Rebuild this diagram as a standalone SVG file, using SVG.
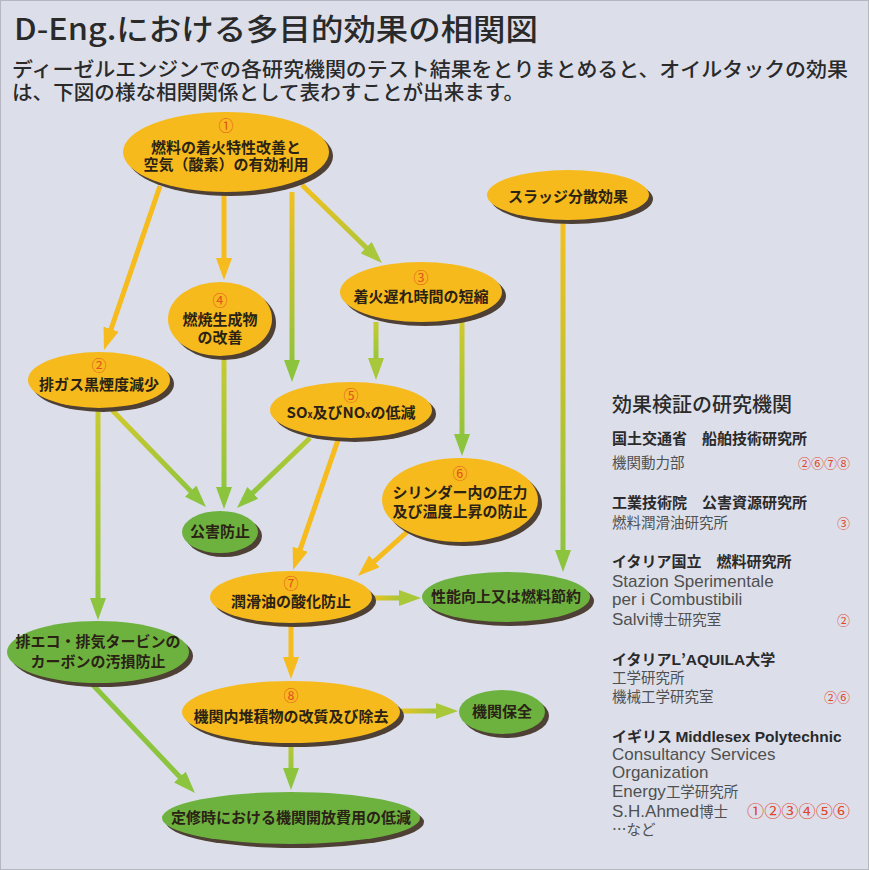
<svg xmlns="http://www.w3.org/2000/svg" width="869" height="870" viewBox="0 0 869 870">
<defs>
<style>
.bg{fill:#dcdfea}
.sh{fill:#4e4034}
.y{fill:#f6ba1c}
.g{fill:#6db23f}
.nt{font-family:"Noto Sans CJK JP",sans-serif;font-size:15px;font-weight:bold;fill:#2b2216;text-anchor:middle}
.num{font-family:"Noto Sans CJK JP",sans-serif;font-size:15px;fill:#e4521f;text-anchor:middle}
.ln{fill:none;stroke-width:5}
.ti{font-family:"Noto Sans CJK JP",sans-serif;fill:#2a2a2a}
.ph{font-family:"Noto Sans CJK JP",sans-serif;font-size:15px;font-weight:bold;fill:#2a2a2a}
.pr{font-family:"Noto Sans CJK JP",sans-serif;font-size:14.5px;fill:#505050}
.lat{font-family:"Liberation Sans",sans-serif;font-size:17px}
.latb{font-family:"Liberation Sans",sans-serif;font-size:15.5px;font-weight:bold}
.rn{font-family:"Noto Sans CJK JP",sans-serif;font-size:13px;fill:#e0452a;text-anchor:end}
</style>
<marker id="aY" markerUnits="userSpaceOnUse" markerWidth="22" markerHeight="16" viewBox="0 0 22 16" refX="12" refY="8" orient="auto"><path d="M0,0 L22,8 L0,16 Z" fill="#f6bb1c"/></marker>
<marker id="aG" markerUnits="userSpaceOnUse" markerWidth="22" markerHeight="16" viewBox="0 0 22 16" refX="12" refY="8" orient="auto"><path d="M0,0 L22,8 L0,16 Z" fill="#8cc43e"/></marker>
<marker id="aYG" markerUnits="userSpaceOnUse" markerWidth="22" markerHeight="16" viewBox="0 0 22 16" refX="12" refY="8" orient="auto"><path d="M0,0 L22,8 L0,16 Z" fill="#a9c73a"/></marker>
<linearGradient id="g3" gradientUnits="userSpaceOnUse" x1="292" y1="192" x2="292" y2="372"><stop offset="0" stop-color="#f0c020"/><stop offset="1" stop-color="#8cc43e"/></linearGradient>
<linearGradient id="g4" gradientUnits="userSpaceOnUse" x1="302" y1="185" x2="375" y2="256"><stop offset="0" stop-color="#f3c01e"/><stop offset="1" stop-color="#a9c73a"/></linearGradient>
<linearGradient id="g5" gradientUnits="userSpaceOnUse" x1="376" y1="322" x2="376" y2="370"><stop offset="0" stop-color="#c4cb30"/><stop offset="1" stop-color="#8cc43e"/></linearGradient>
<linearGradient id="g6" gradientUnits="userSpaceOnUse" x1="462" y1="322" x2="462" y2="446"><stop offset="0" stop-color="#d0c92c"/><stop offset="1" stop-color="#8cc43e"/></linearGradient>
<linearGradient id="g7" gradientUnits="userSpaceOnUse" x1="563" y1="221" x2="563" y2="562"><stop offset="0" stop-color="#f3c01e"/><stop offset="1" stop-color="#8cc43e"/></linearGradient>
<linearGradient id="g8" gradientUnits="userSpaceOnUse" x1="224" y1="357" x2="224" y2="499"><stop offset="0" stop-color="#c8ca30"/><stop offset="1" stop-color="#8cc43e"/></linearGradient>
<linearGradient id="g9" gradientUnits="userSpaceOnUse" x1="112" y1="410" x2="199" y2="500"><stop offset="0" stop-color="#d2c92c"/><stop offset="1" stop-color="#8cc43e"/></linearGradient>
<linearGradient id="g10" gradientUnits="userSpaceOnUse" x1="310" y1="438" x2="244" y2="501"><stop offset="0" stop-color="#b6c934"/><stop offset="1" stop-color="#8cc43e"/></linearGradient>
<linearGradient id="g13" gradientUnits="userSpaceOnUse" x1="98" y1="409" x2="98" y2="610"><stop offset="0" stop-color="#c8ca30"/><stop offset="1" stop-color="#8cc43e"/></linearGradient>
<linearGradient id="g14" gradientUnits="userSpaceOnUse" x1="374" y1="598" x2="411" y2="598"><stop offset="0" stop-color="#e8c424"/><stop offset="1" stop-color="#8cc43e"/></linearGradient>
<linearGradient id="g16" gradientUnits="userSpaceOnUse" x1="401" y1="711" x2="448" y2="711"><stop offset="0" stop-color="#e8c424"/><stop offset="1" stop-color="#8cc43e"/></linearGradient>
<linearGradient id="g17" gradientUnits="userSpaceOnUse" x1="291" y1="745" x2="291" y2="780"><stop offset="0" stop-color="#b8c934"/><stop offset="1" stop-color="#8cc43e"/></linearGradient>
</defs>
<rect class="bg" x="0" y="0" width="869" height="870"/>
<rect x="0.5" y="0.5" width="868" height="869" fill="none" stroke="#b4b6c0" stroke-width="1"/>

<g id="title">
<text class="ti" x="14" y="40" font-size="30" font-weight="500" textLength="524" lengthAdjust="spacingAndGlyphs">D-Eng.における多目的効果の相関図</text>
<text class="ti" x="12" y="77" font-size="20" font-weight="500" textLength="836" lengthAdjust="spacingAndGlyphs">ディーゼルエンジンでの各研究機関のテスト結果をとりまとめると、オイルタックの効果</text>
<text class="ti" x="12" y="100" font-size="20" font-weight="500" textLength="512" lengthAdjust="spacingAndGlyphs">は、下図の様な相関関係として表わすことが出来ます。</text>
</g>

<g id="connectors">
<line class="ln" x1="160" y1="186" x2="107.2" y2="340.5" stroke="#f6bb1c" marker-end="url(#aY)"/>
<line class="ln" x1="224" y1="195" x2="224" y2="270" stroke="#f6bb1c" marker-end="url(#aY)"/>
<line class="ln" x1="292" y1="192" x2="292" y2="372" stroke="url(#g3)" marker-end="url(#aG)"/>
<line class="ln" x1="302" y1="185" x2="374.8" y2="256" stroke="url(#g4)" marker-end="url(#aYG)"/>
<line class="ln" x1="376" y1="322" x2="376" y2="370" stroke="url(#g5)" marker-end="url(#aYG)"/>
<line class="ln" x1="462" y1="322" x2="462" y2="446" stroke="url(#g6)" marker-end="url(#aG)"/>
<line class="ln" x1="563" y1="221" x2="563" y2="562" stroke="url(#g7)" marker-end="url(#aG)"/>
<line class="ln" x1="224" y1="357" x2="224" y2="499" stroke="url(#g8)" marker-end="url(#aG)"/>
<line class="ln" x1="112" y1="410" x2="199" y2="499.8" stroke="url(#g9)" marker-end="url(#aG)"/>
<line class="ln" x1="310" y1="438" x2="244.2" y2="501.1" stroke="url(#g10)" marker-end="url(#aG)"/>
<line class="ln" x1="338" y1="440" x2="296.3" y2="560.6" stroke="#f6bb1c" marker-end="url(#aY)"/>
<line class="ln" x1="407" y1="532" x2="365.4" y2="569.3" stroke="#f6bb1c" marker-end="url(#aY)"/>
<line class="ln" x1="98" y1="409" x2="98" y2="610" stroke="url(#g13)" marker-end="url(#aG)"/>
<line class="ln" x1="374" y1="598" x2="411" y2="598" stroke="url(#g14)" marker-end="url(#aYG)"/>
<line class="ln" x1="291" y1="624" x2="291" y2="669" stroke="#f6bb1c" marker-end="url(#aY)"/>
<line class="ln" x1="401" y1="711" x2="448" y2="711" stroke="url(#g16)" marker-end="url(#aYG)"/>
<line class="ln" x1="291" y1="745" x2="291" y2="780" stroke="url(#g17)" marker-end="url(#aG)"/>
<line class="ln" x1="92" y1="684" x2="188.1" y2="785.7" stroke="#8cc43e" marker-end="url(#aG)"/>
</g>

<g id="n1">
<ellipse class="sh" cx="230" cy="156" rx="103" ry="40"/>
<ellipse class="y" cx="226" cy="152" rx="103" ry="40"/>
<text class="num" x="226" y="131">①</text>
<text class="nt" x="226" y="153">燃料の着火特性改善と</text>
<text class="nt" x="226" y="170">空気（酸素）の有効利用</text>
</g>
<g id="sludge">
<ellipse class="sh" cx="572" cy="199" rx="81" ry="25"/>
<ellipse class="y" cx="568" cy="195" rx="81" ry="25"/>
<text class="nt" x="568" y="202">スラッジ分散効果</text>
</g>
<g id="n4">
<ellipse class="sh" cx="224" cy="323" rx="52" ry="37"/>
<ellipse class="y" cx="220" cy="319" rx="52" ry="37"/>
<text class="num" x="220" y="306">④</text>
<text class="nt" x="220" y="325">燃焼生成物</text>
<text class="nt" x="220" y="343">の改善</text>
</g>
<g id="n3">
<ellipse class="sh" cx="425" cy="296" rx="81" ry="30"/>
<ellipse class="y" cx="421" cy="292" rx="81" ry="30"/>
<text class="num" x="421" y="283">③</text>
<text class="nt" x="421" y="302">着火遅れ時間の短縮</text>
</g>
<g id="n2">
<ellipse class="sh" cx="103" cy="384" rx="71" ry="28"/>
<ellipse class="y" cx="99" cy="380" rx="71" ry="28"/>
<text class="num" x="99" y="371">②</text>
<text class="nt" x="99" y="390">排ガス黒煙度減少</text>
</g>
<g id="n5">
<ellipse class="sh" cx="355" cy="414" rx="81" ry="28"/>
<ellipse class="y" cx="351" cy="410" rx="81" ry="28"/>
<text class="num" x="351" y="401">⑤</text>
<text class="nt" x="351" y="418">SO<tspan font-size="9">x</tspan>及びNO<tspan font-size="9">x</tspan>の低減</text>
</g>
<g id="n6">
<ellipse class="sh" cx="464" cy="504" rx="78" ry="42"/>
<ellipse class="y" cx="460" cy="500" rx="78" ry="42"/>
<text class="num" x="460" y="479">⑥</text>
<text class="nt" x="460" y="498">シリンダー内の圧力</text>
<text class="nt" x="460" y="517">及び温度上昇の防止</text>
</g>
<g id="kougai">
<ellipse class="sh" cx="224" cy="536" rx="38" ry="21"/>
<ellipse class="g" cx="220" cy="532" rx="38" ry="21"/>
<text class="nt" x="220" y="537">公害防止</text>
</g>
<g id="n7">
<ellipse class="sh" cx="295" cy="601" rx="81" ry="26"/>
<ellipse class="y" cx="291" cy="597" rx="81" ry="26"/>
<text class="num" x="291" y="589">⑦</text>
<text class="nt" x="291" y="607">潤滑油の酸化防止</text>
</g>
<g id="seino">
<ellipse class="sh" cx="510" cy="601" rx="84" ry="25"/>
<ellipse class="g" cx="506" cy="597" rx="84" ry="25"/>
<text class="nt" x="506" y="602">性能向上又は燃料節約</text>
</g>
<g id="haieco">
<ellipse class="sh" cx="102" cy="656" rx="91" ry="31"/>
<ellipse class="g" cx="98" cy="652" rx="91" ry="31"/>
<text class="nt" x="98" y="647">排エコ・排気タービンの</text>
<text class="nt" x="98" y="667">カーボンの汚損防止</text>
</g>
<g id="n8">
<ellipse class="sh" cx="295" cy="716" rx="109" ry="31"/>
<ellipse class="y" cx="291" cy="712" rx="109" ry="31"/>
<text class="num" x="291" y="701">⑧</text>
<text class="nt" x="291" y="722">機関内堆積物の改質及び除去</text>
</g>
<g id="hozen">
<ellipse class="sh" cx="506" cy="716" rx="43" ry="22"/>
<ellipse class="g" cx="502" cy="712" rx="43" ry="22"/>
<text class="nt" x="502" y="717">機関保全</text>
</g>
<g id="teishu">
<ellipse class="sh" cx="295" cy="822" rx="129" ry="26"/>
<ellipse class="g" cx="291" cy="818" rx="129" ry="26"/>
<text class="nt" x="291" y="823">定修時における機関開放費用の低減</text>
</g>

<g id="panel">
<text class="ti" x="612" y="412" font-size="20" font-weight="500">効果検証の研究機関</text>
<text class="ph" x="612" y="444">国土交通省　船舶技術研究所</text>
<text class="pr" x="612" y="468">機関動力部</text>
<text class="rn" x="850" y="468">②⑥⑦⑧</text>
<text class="ph" x="612" y="508">工業技術院　公害資源研究所</text>
<text class="pr" x="612" y="528">燃料潤滑油研究所</text>
<text class="rn" x="850" y="528">③</text>
<text class="ph" x="612" y="567">イタリア国立　燃料研究所</text>
<text class="pr" x="612" y="587"><tspan class="lat">Stazion Sperimentale</tspan></text>
<text class="pr" x="612" y="605"><tspan class="lat">per i Combustibili</tspan></text>
<text class="pr" x="612" y="625"><tspan class="lat">Salvi</tspan>博士研究室</text>
<text class="rn" x="850" y="625">②</text>
<text class="ph" x="612" y="665">イタリア<tspan class="latb">L</tspan>’<tspan class="latb">AQUILA</tspan>大学</text>
<text class="pr" x="612" y="683">工学研究所</text>
<text class="pr" x="612" y="702">機械工学研究室</text>
<text class="rn" x="850" y="702">②⑥</text>
<text class="ph" x="612" y="742">イギリス <tspan class="latb">Middlesex Polytechnic</tspan></text>
<text class="pr" x="612" y="760"><tspan class="lat">Consultancy Services</tspan></text>
<text class="pr" x="612" y="778"><tspan class="lat">Organization</tspan></text>
<text class="pr" x="612" y="797"><tspan class="lat">Energy</tspan>工学研究所</text>
<text class="pr" x="612" y="817"><tspan class="lat">S.H.Ahmed</tspan>博士</text>
<text x="747" y="817" font-family="Noto Sans CJK JP, sans-serif" font-size="16" fill="#e0452a" textLength="103" lengthAdjust="spacingAndGlyphs">①②③④⑤⑥</text>
<text class="pr" x="612" y="835">…など</text>
</g>
</svg>
